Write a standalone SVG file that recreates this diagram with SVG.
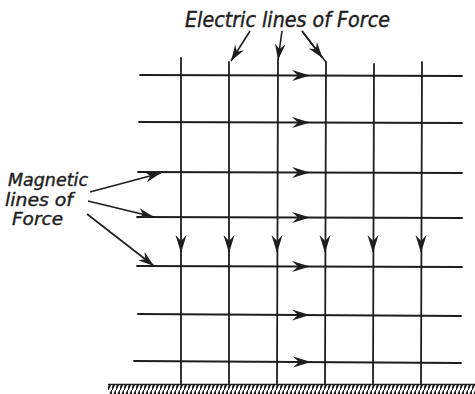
<svg xmlns="http://www.w3.org/2000/svg" xmlns:xlink="http://www.w3.org/1999/xlink" width="475" height="394" viewBox="0 0 475 394">
<style>
.ln{stroke:#1e1e1e;stroke-width:1.8;fill:none;stroke-linecap:round}
.ld{stroke:#1e1e1e;stroke-width:1.6;fill:none}
.ah{fill:#1e1e1e}
.t{font-family:"DejaVu Sans Condensed","DejaVu Sans",sans-serif;font-style:oblique;font-size:21px;fill:#1e1e1e;stroke:#1e1e1e;stroke-width:0.4}
.tm{font-size:18px}
</style>
<defs>
<path id="ar" class="ah" d="M0,0 L-18,-5.5 L-12,0 L-18,5.5 Z"/>
<marker id="mk" markerUnits="userSpaceOnUse" markerWidth="20" markerHeight="14" refX="16" refY="6" orient="auto" viewBox="0 0 20 12">
<path class="ah" d="M16,6 L0,0.8 L5,6 L0,11.2 Z"/>
</marker>
<pattern id="hatch" patternUnits="userSpaceOnUse" width="4" height="10">
<rect width="4" height="10" fill="#fff"/>
<path d="M-1,11 L5,-1" stroke="#1e1e1e" stroke-width="2.1"/>
</pattern>
</defs>
<g id="ground">
<rect x="108" y="384" width="367" height="10" fill="url(#hatch)"/>
<line x1="108" y1="384.5" x2="475" y2="384.5" stroke="#1e1e1e" stroke-width="1.5"/>
</g>
<g id="magnetic-lines">
<line class="ln" x1="140" y1="75" x2="462" y2="76"/>
<line class="ln" x1="139" y1="122" x2="462" y2="123"/>
<line class="ln" x1="138" y1="172" x2="462" y2="173"/>
<line class="ln" x1="137" y1="217" x2="462" y2="218"/>
<line class="ln" x1="137" y1="266" x2="462" y2="267"/>
<line class="ln" x1="138" y1="314" x2="461" y2="316"/>
<line class="ln" x1="134" y1="361" x2="461" y2="363"/>
<use xlink:href="#ar" x="310" y="75.5"/>
<use xlink:href="#ar" x="310" y="122.5"/>
<use xlink:href="#ar" x="310" y="172.5"/>
<use xlink:href="#ar" x="310" y="217.5"/>
<use xlink:href="#ar" x="310" y="266.5"/>
<use xlink:href="#ar" x="310" y="315"/>
<use xlink:href="#ar" x="311" y="362"/>
</g>
<g id="electric-lines">
<line class="ln" x1="181" y1="58" x2="181" y2="384"/>
<line class="ln" x1="229" y1="62" x2="229" y2="384"/>
<line class="ln" x1="278" y1="60" x2="277" y2="384"/>
<line class="ln" x1="326" y1="62" x2="325" y2="384"/>
<line class="ln" x1="374" y1="64" x2="373" y2="384"/>
<line class="ln" x1="422" y1="62" x2="421" y2="384"/>
<use xlink:href="#ar" transform="translate(181,253) rotate(90)"/>
<use xlink:href="#ar" transform="translate(229,253) rotate(90)"/>
<use xlink:href="#ar" transform="translate(277,253) rotate(90)"/>
<use xlink:href="#ar" transform="translate(325,253) rotate(90)"/>
<use xlink:href="#ar" transform="translate(373,253) rotate(90)"/>
<use xlink:href="#ar" transform="translate(421,253) rotate(90)"/>
</g>
<g id="connectors">
<line class="ld" x1="250" y1="31" x2="231" y2="61" marker-end="url(#mk)"/>
<line class="ld" x1="282" y1="31" x2="278" y2="60" marker-end="url(#mk)"/>
<polyline class="ld" points="302,31 322,57 326,62"/>
<line class="ld" x1="302" y1="31" x2="322.5" y2="58" marker-end="url(#mk)"/>
<line class="ld" x1="90" y1="192" x2="161" y2="173" marker-end="url(#mk)"/>
<line class="ld" x1="88" y1="201" x2="154" y2="217" marker-end="url(#mk)"/>
<line class="ld" x1="87" y1="214" x2="154" y2="266" marker-end="url(#mk)"/>
</g>
<g id="label-electric">
<text class="t" x="185" y="27" textLength="205" lengthAdjust="spacingAndGlyphs">Electric lines of Force</text>
</g>
<g id="label-magnetic">
<text class="t tm" x="8" y="186" textLength="80" lengthAdjust="spacingAndGlyphs">Magnetic</text>
<text class="t tm" x="5" y="206" textLength="68" lengthAdjust="spacingAndGlyphs">lines of</text>
<text class="t tm" x="12" y="225" textLength="51" lengthAdjust="spacingAndGlyphs">Force</text>
</g>
</svg>
